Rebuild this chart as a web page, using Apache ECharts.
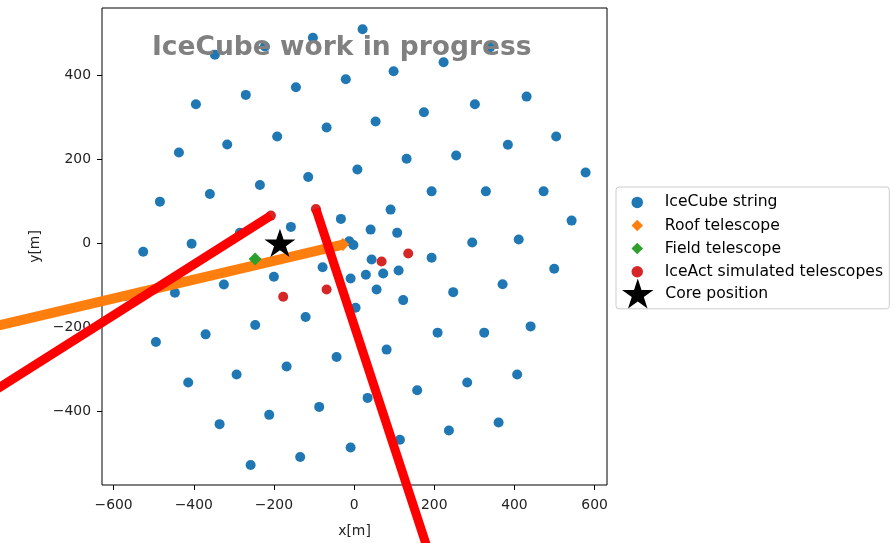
<!DOCTYPE html>
<html>
<head>
<meta charset="utf-8">
<script src="https://cdn.jsdelivr.net/npm/echarts@6/dist/echarts.min.js"></script>
<style>
  html, body { margin: 0; padding: 0; background: #ffffff; }
  #chart { width: 891px; height: 543px; }
</style>
</head>
<body>
<div id="chart"></div>
<script>
// IceCube string positions on the surface, metres
const stringX = [
  21.2, -102.8, -222.6, -347.3, 338.8, 223.3, 98.6, -20.7, -145.2, -270.2,
  -394.7, 430.4, 301.4, 174.2, 53.6, -68.6, -191.9, -316.6, -437.1, 504.2,
  383.7, 254.7, 131.0, 8.2, -114.5, -235.0, -359.8, -484.5, 577.6, 472.8,
  328.8, 193.4, 91.1, -32.9, -157.7, -284.9, -405.4, -526.2, 542.7, 410.7,
  294.7, 41.2, 107.5, -12.2, -1.7, 43.7, 193.4, 499.3, -8.7, 29.4,
  72.6, 111.0, 56.1, 122.5, 247.3, 370.5, -78.6, -200.1, -324.9, -447.1,
  -571.9, 3.7, -121.0, -246.8, -370.5, -494.5, 208.3, 324.6, 440.4, 81.1,
  -43.7, -168.4, -293.2, -413.9, 157.4, 282.2, 406.9, 33.7, -87.1, -211.8,
  -335.6, 114.3, 236.5, 360.5, -8.7, -134.5, -258.2
];
const stringY = [
  510.3, 490.1, 469.2, 449.7, 466.8, 431.6, 410.2, 391.2, 372.2, 353.9,
  331.7, 349.8, 331.7, 312.7, 290.4, 276.1, 254.7, 235.7, 216.6, 254.7,
  235.0, 209.5, 201.7, 176.2, 158.1, 139.1, 117.7, 99.4, 169.1, 123.9,
  123.9, 123.9, 80.4, 58.3, 39.2, 25.0, -1.0, -20.2, 54.2, 9.0,
  1.9, 32.8, 25.0, 5.0, -4.0, -38.5, -34.5, -60.6, -83.7, -74.9,
  -71.8, -64.7, -109.9, -135.3, -116.3, -97.3, -56.8, -79.7, -98.0, -117.7,
  -125.8, -153.4, -175.7, -194.8, -216.9, -235.2, -212.8, -212.8, -197.9, -253.3,
  -270.9, -293.7, -312.7, -331.7, -350.1, -331.7, -312.7, -368.4, -389.8, -408.8,
  -430.9, -468.3, -445.9, -426.9, -486.8, -509.4, -528.5
];

// Telescopes and reconstructed core
const roofTelescope = [-28, -3];
const fieldTelescope = [-247, -37];
const iceActX = [-207.6, -95.3, -176.9, -68.6, 68.6, 135.0];
const iceActY = [66.1, 82.0, -127.2, -109.9, -43.3, -24.3];
const corePosition = [-185, -2.4];

// Shower directions seen from the telescopes (far ends run off the figure)
const roofTrack = [[-28, -3], [-1000, -221]];
const trackA = [[-207.6, 66.1], [-1000, -413]];
const trackB = [[-95.3, 82.0], [208, -800]];

// Axis ticks
const xTicks = [-600, -400, -200, 0, 200, 400, 600];
const yTicks = [-400, -200, 0, 200, 400];

const FONT = 'DejaVu Sans';
const diamond = 'path://M0,-100L100,0L0,100L-100,0Z';
const star = 'path://M0,-100L22.45,-30.9L95.11,-30.9L36.33,11.8L58.78,80.9L0,38.2L-58.78,80.9L-36.33,11.8L-95.11,-30.9L-22.45,-30.9Z';

const zip = (xs, ys) => xs.map((x, i) => [x, ys[i]]);
const minusSign = v => String(v).replace('-', '\u2212');

function track(name, coords, color, width) {
  return {
    name: name, type: 'lines', coordinateSystem: 'cartesian2d',
    clip: false, polyline: false, silent: true, z: 4,
    lineStyle: { color: color, width: width, opacity: 1, cap: 'butt', curveness: 0 },
    data: [{ coords: coords }]
  };
}

const chart = echarts.init(document.getElementById('chart'), null, { renderer: 'canvas' });

const legendText = { fontFamily: FONT, fontSize: 15.6, color: '#000' };

chart.setOption({
  animation: false,
  backgroundColor: '#ffffff',
  title: {
    text: 'IceCube work in progress',
    left: 152,
    top: 35,
    padding: 0,
    z: 20,
    textStyle: { fontFamily: FONT, fontSize: 26.5, fontWeight: 'bold', color: '#808080' }
  },
  grid: {
    left: 102, right: 284, top: 8, bottom: 57,
    show: true, borderColor: '#000000', borderWidth: 1, backgroundColor: 'transparent'
  },
  xAxis: {
    type: 'value', min: -629, max: 631,
    name: 'x[m]', nameLocation: 'middle', nameGap: 39,
    nameTextStyle: { fontFamily: FONT, fontSize: 13.9, color: '#222' },
    axisLine: { show: false, onZero: false },
    axisTick: { show: true, length: 5, lineStyle: { color: '#000', width: 1 }, customValues: xTicks },
    axisLabel: { fontFamily: FONT, fontSize: 13.9, color: '#222', margin: 13, customValues: xTicks, formatter: minusSign },
    splitLine: { show: false }
  },
  yAxis: {
    type: 'value', min: -576, max: 561,
    name: 'y[m]', nameLocation: 'middle', nameGap: 60,
    nameTextStyle: { fontFamily: FONT, fontSize: 13.9, color: '#222' },
    axisLine: { show: false, onZero: false },
    axisTick: { show: true, length: 5, lineStyle: { color: '#000', width: 1 }, customValues: yTicks },
    axisLabel: { fontFamily: FONT, fontSize: 13.9, color: '#222', margin: 11, customValues: yTicks, formatter: minusSign },
    splitLine: { show: false }
  },
  legend: [
    {
      orient: 'vertical',
      left: 616, top: 187,
      padding: [7.4, 6.3, 29.1, 15.5],
      itemWidth: 45, itemHeight: 11.5, itemGap: 7.1,
      selectedMode: false,
      backgroundColor: '#ffffff',
      borderColor: '#cccccc', borderWidth: 1, borderRadius: 3,
      textStyle: legendText,
      z: 10,
      data: [
        { name: 'IceCube string', icon: 'circle' },
        { name: 'Roof telescope', icon: diamond },
        { name: 'Field telescope', icon: diamond },
        { name: 'IceAct simulated telescopes', icon: 'circle' }
      ]
    },
    {
      orient: 'vertical',
      left: 622, top: 278.5,
      padding: 0,
      itemWidth: 45, itemHeight: 30,
      selectedMode: false,
      textStyle: legendText,
      z: 11,
      data: [{ name: 'Core position', icon: star }]
    }
  ],
  series: [
    {
      name: 'IceCube string', type: 'scatter', symbol: 'circle', symbolSize: 10,
      itemStyle: { color: '#1f77b4', opacity: 1 }, z: 2,
      data: zip(stringX, stringY)
    },
    {
      name: 'IceAct simulated telescopes', type: 'scatter', symbol: 'circle', symbolSize: 10,
      itemStyle: { color: '#d62728', opacity: 1 }, z: 3,
      data: zip(iceActX, iceActY)
    },
    track('Roof track', roofTrack, '#ff7f0e', 10),
    track('Track A', trackA, '#ff0000', 9),
    track('Track B', trackB, '#ff0000', 9),
    {
      name: 'Roof telescope', type: 'scatter', symbol: diamond, symbolSize: 13,
      itemStyle: { color: '#ff7f0e', opacity: 1 }, z: 5,
      data: [roofTelescope]
    },
    {
      name: 'Field telescope', type: 'scatter', symbol: diamond, symbolSize: 13,
      itemStyle: { color: '#2ca02c', opacity: 1 }, z: 5,
      data: [fieldTelescope]
    },
    {
      name: 'Core position', type: 'scatter', symbol: star, symbolSize: [31, 29.5],
      symbolKeepAspect: true, symbolOffset: [0, -1.5],
      itemStyle: { color: '#000000', opacity: 1 }, z: 6,
      data: [corePosition]
    }
  ]
});
</script>
</body>
</html>
